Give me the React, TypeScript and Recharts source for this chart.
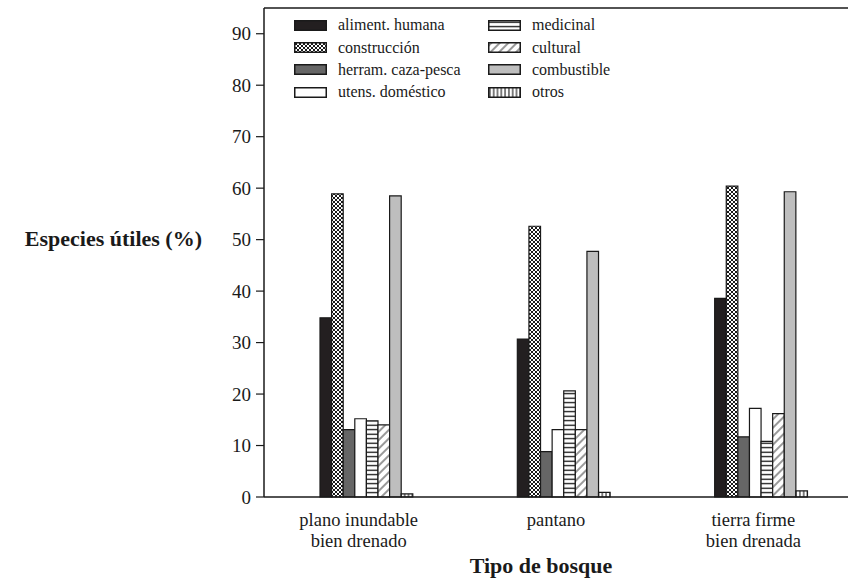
import React from "react";
import { BarChart, Bar, XAxis, YAxis, ReferenceLine } from "recharts";

const categories = ["plano inundable\nbien drenado", "pantano", "tierra firme\nbien drenada"];
const alimentHumana = [34.8, 30.7, 38.6];
const construccion = [58.9, 52.6, 60.4];
const herramCazaPesca = [13.1, 8.8, 11.7];
const utensDomestico = [15.2, 13.1, 17.2];
const medicinal = [14.8, 20.6, 10.8];
const cultural = [14.0, 13.1, 16.2];
const combustible = [58.5, 47.7, 59.3];
const otros = [0.6, 0.9, 1.2];
const yTicks = [0, 10, 20, 30, 40, 50, 60, 70, 80, 90];

const seriesDefs = [
  { key: "aliment", name: "aliment. humana", values: alimentHumana, fill: "#231f20" },
  { key: "constr", name: "construcción", values: construccion, fill: "url(#patCross)" },
  { key: "herram", name: "herram. caza-pesca", values: herramCazaPesca, fill: "#666666" },
  { key: "utens", name: "utens. doméstico", values: utensDomestico, fill: "#ffffff" },
  { key: "medic", name: "medicinal", values: medicinal, fill: "url(#patHoriz)" },
  { key: "cult", name: "cultural", values: cultural, fill: "url(#patDiag)" },
  { key: "comb", name: "combustible", values: combustible, fill: "#bebebe" },
  { key: "otros", name: "otros", values: otros, fill: "url(#patVert)" },
];

const data = categories.map((c, i) => {
  const row: any = { cat: c };
  seriesDefs.forEach((s) => {
    row[s.key] = s.values[i];
  });
  return row;
});

const FONT = '"Liberation Serif", "Times New Roman", serif';
const INK = "#1a1a1a";

const XTick = (props: any) => {
  const { x, y, payload } = props;
  const lines = String(payload.value).split("\n");
  return (
    <g transform={`translate(${x - 8},${y})`}>
      <text textAnchor="middle" fontFamily={FONT} fontSize={18.5} fill={INK}>
        {lines.map((l, i) => (
          <tspan key={i} x={0} y={28.5 + i * 21.5}>
            {l}
          </tspan>
        ))}
      </text>
    </g>
  );
};

const LegendOverlay = () => {
  const cols = [seriesDefs.slice(0, 4), seriesDefs.slice(4)];
  const lefts = [294, 488];
  return (
    <>
      {cols.map((col, ci) => (
        <div
          key={ci}
          style={{ position: "absolute", left: lefts[ci], top: 14, fontFamily: FONT, fontSize: 16, color: INK }}
        >
          {col.map((s) => (
            <div key={s.key} style={{ height: 22.4, display: "flex", alignItems: "center", whiteSpace: "nowrap" }}>
              <svg width={33} height={11} style={{ marginRight: 11, flex: "none" }}>
                <rect x={0.75} y={0.75} width={31.5} height={9.5} fill={s.fill} stroke={INK} strokeWidth={1.5} />
              </svg>
              <span>{s.name}</span>
            </div>
          ))}
        </div>
      ))}
    </>
  );
};

export default function App() {
  return (
    <div style={{ position: "absolute", left: 0, top: 0, width: 848, height: 580, overflow: "hidden", background: "#fff" }}>
      <BarChart
        width={860}
        height={580}
        data={data}
        margin={{ top: 8, right: 0, bottom: 0, left: 0 }}
        barGap={0}
        barSize={11.6}
      >
        <defs>
          <pattern id="patCross" patternUnits="userSpaceOnUse" width={4} height={4}>
            <rect width={4} height={4} fill="#fff" />
            <path d="M0,0 L4,4 M4,0 L0,4" stroke="#000" strokeWidth={0.9} />
          </pattern>
          <pattern id="patHoriz" patternUnits="userSpaceOnUse" width={4} height={4.5}>
            <rect width={4} height={4.5} fill="#fff" />
            <path d="M0,2.2 L4,2.2" stroke="#000" strokeWidth={1.2} />
          </pattern>
          <pattern id="patDiag" patternUnits="userSpaceOnUse" width={6} height={6} patternTransform="rotate(45)">
            <rect width={6} height={6} fill="#fff" />
            <path d="M3,0 L3,6" stroke="#000" strokeWidth={0.8} />
          </pattern>
          <pattern id="patVert" patternUnits="userSpaceOnUse" width={3.8} height={4}>
            <rect width={3.8} height={4} fill="#fff" />
            <path d="M1.9,0 L1.9,4" stroke="#000" strokeWidth={1} />
          </pattern>
        </defs>
        <XAxis
          dataKey="cat"
          height={83}
          padding={{ left: 4, right: 0 }}
          tickLine={false}
          tickSize={0}
          tickMargin={0}
          axisLine={{ stroke: INK, strokeWidth: 1.5 }}
          tick={<XTick />}
          interval={0}
          label={{
            content: () => (
              <text x={541} y={573} textAnchor="middle" fontFamily={FONT} fontSize={22} fontWeight="bold" fill={INK}>
                Tipo de bosque
              </text>
            ),
          }}
        />
        <YAxis
          width={264}
          domain={[0, 95]}
          ticks={yTicks}
          interval={0}
          tickSize={8}
          tickMargin={5}
          axisLine={{ stroke: INK, strokeWidth: 1.5 }}
          tickLine={{ stroke: INK, strokeWidth: 1.2 }}
          tick={{ fontFamily: FONT, fontSize: 19, fill: INK }}
          label={{
            content: () => (
              <text x={202} y={246} textAnchor="end" fontFamily={FONT} fontSize={22} fontWeight="bold" fill={INK}>
                Especies útiles (%)
              </text>
            ),
          }}
        />
        <ReferenceLine y={95} stroke={INK} strokeWidth={1.5} />
        {seriesDefs.map((s) => (
          <Bar
            key={s.key}
            dataKey={s.key}
            name={s.name}
            fill={s.fill}
            stroke={INK}
            strokeWidth={1.2}
            isAnimationActive={false}
          />
        ))}
      </BarChart>
      <LegendOverlay />
    </div>
  );
}
